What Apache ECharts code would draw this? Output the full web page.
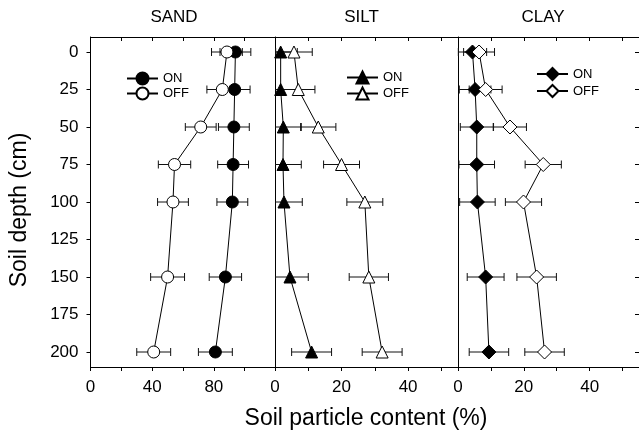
<!DOCTYPE html>
<html>
<head>
<meta charset="utf-8">
<script src="https://cdn.jsdelivr.net/npm/echarts@6/dist/echarts.min.js"></script>
<style>html,body{margin:0;padding:0;background:#fff}#c{width:639px;height:435px}</style>
</head>
<body>
<div id="c"></div>
<script>
var depth = [0, 25, 50, 75, 100, 150, 200];
var sandOn = [94, 93.5, 93, 92.5, 92, 87.5, 81];
var sandOff = [88.5, 85.5, 71.5, 54.5, 53.5, 50, 41];
var sandOnErr = [10, 10, 10, 10, 10, 10.5, 11];
var sandOffErr = [10, 10, 10, 10.5, 10, 11, 11];
var siltOn = [1.7, 1.7, 2.5, 2.4, 2.7, 4.5, 11];
var siltOff = [5.7, 7, 13, 20, 27, 28.2, 32.2];
var siltOnErr = [5, 5, 5.4, 5.5, 5.5, 5.5, 6];
var siltOffErr = [5.5, 5, 5.3, 5.4, 5.4, 5.9, 6];
var clayOn = [4.4, 5.2, 5.7, 5.7, 5.9, 8.4, 9.4];
var clayOff = [6.4, 8.4, 15.8, 25.9, 19.9, 23.9, 26.3];
var clayOnErr = [4.3, 4.8, 5, 5.4, 5.4, 5.6, 6];
var clayOffErr = [4.7, 5, 5, 5.5, 5.5, 6, 6];
var panelNames = ['SAND', 'SILT', 'CLAY'];
var depthTicks = [0, 25, 50, 75, 100, 125, 150, 175, 200];
var sandTicks = [0, 20, 40, 60, 80, 100, 120];
var sandLabels = [0, 40, 80];
var fineTicks = [0, 10, 20, 30, 40, 50];
var fineLabels = [0, 20, 40];

var FONT = 'Liberation Sans, Arial, sans-serif';
var chart = echarts.init(document.getElementById('c'), null, {renderer: 'canvas'});

var grids = [
  {left: 90.5, top: 37, width: 185, height: 330},
  {left: 275, top: 37, width: 183, height: 330},
  {left: 458, top: 37, width: 183, height: 330}
];

function pairs(xs) { return xs.map(function (v, i) { return [v, depth[i]]; }); }
function triples(xs, es) { return xs.map(function (v, i) { return [v, depth[i], es[i]]; }); }

function errRender(params, api) {
  var x = api.value(0), y = api.value(1), e = api.value(2);
  var cs = params.coordSys;
  var p1 = api.coord([x - e, y]);
  var p2 = api.coord([x + e, y]);
  var h = 4;
  var st = {stroke: '#111', lineWidth: 1};
  var left = Math.max(p1[0], cs.x), right = Math.min(p2[0], cs.x + cs.width);
  var ch = [{type: 'line', shape: {x1: left, y1: p1[1], x2: right, y2: p2[1]}, style: st}];
  if (p1[0] >= cs.x - 0.5) ch.push({type: 'line', shape: {x1: p1[0], y1: p1[1] - h, x2: p1[0], y2: p1[1] + h}, style: st});
  if (p2[0] <= cs.x + cs.width) ch.push({type: 'line', shape: {x1: p2[0], y1: p2[1] - h, x2: p2[0], y2: p2[1] + h}, style: st});
  return {type: 'group', children: ch};
}

var axisLineStyle = {color: '#000', width: 1};
var xAxes = [], yAxes = [];
grids.forEach(function (g, p) {
  var isSand = p === 0;
  var mx = isSand ? 120 : 55;
  var ticks = isSand ? sandTicks : fineTicks;
  var labels = isSand ? sandLabels : fineLabels;
  xAxes.push({
    type: 'value', gridIndex: p, position: 'bottom', min: 0, max: mx,
    axisLine: {onZero: false, lineStyle: axisLineStyle},
    axisTick: {inside: false, length: 4, lineStyle: axisLineStyle, customValues: ticks},
    axisLabel: {customValues: labels, fontSize: 17, color: '#000', fontFamily: FONT, margin: 12},
    splitLine: {show: false}
  });
  xAxes.push({
    type: 'value', gridIndex: p, position: 'top', min: 0, max: mx,
    axisLine: {onZero: false, lineStyle: axisLineStyle},
    axisTick: {inside: true, length: 4, lineStyle: axisLineStyle, customValues: ticks},
    axisLabel: {show: false},
    splitLine: {show: false}
  });
});
yAxes.push({
  type: 'value', gridIndex: 0, position: 'left', inverse: true, min: -10, max: 210,
  axisLine: {onZero: false, lineStyle: axisLineStyle},
  axisTick: {inside: false, length: 4, lineStyle: axisLineStyle, customValues: depthTicks},
  axisLabel: {customValues: depthTicks, fontSize: 17, color: '#000', fontFamily: FONT, margin: 12},
  splitLine: {show: false}
});
[1, 2].forEach(function (p) {
  yAxes.push({
    type: 'value', gridIndex: p, position: 'left', inverse: true, min: -10, max: 210,
    axisLine: {onZero: false, lineStyle: axisLineStyle},
    axisTick: {show: false}, axisLabel: {show: false}, splitLine: {show: false}
  });
});
yAxes.push({
  type: 'value', gridIndex: 2, position: 'right', inverse: true, min: -10, max: 210,
  axisLine: {onZero: false, lineStyle: axisLineStyle},
  axisTick: {inside: true, length: 4, lineStyle: axisLineStyle, customValues: depthTicks},
  axisLabel: {show: false}, splitLine: {show: false}
});

var panels = [
  {on: sandOn, off: sandOff, onErr: sandOnErr, offErr: sandOffErr, sym: 'circle', size: 12},
  {on: siltOn, off: siltOff, onErr: siltOnErr, offErr: siltOffErr, sym: 'triangle', size: 12},
  {on: clayOn, off: clayOff, onErr: clayOnErr, offErr: clayOffErr, sym: 'diamond', size: 14}
];

var series = [];
panels.forEach(function (pn, p) {
  var xi = p * 2, yi = p;
  var nm = panelNames[p];
  [['OFF', pn.off, pn.offErr], ['ON', pn.on, pn.onErr]].forEach(function (s) {
    series.push({
      type: 'custom', name: nm + ' ' + s[0] + ' err', xAxisIndex: xi, yAxisIndex: yi, z: 1,
      renderItem: errRender, data: triples(s[1], s[2]), encode: {x: 0, y: 1}, silent: true
    });
  });
  [['OFF', pn.off], ['ON', pn.on]].forEach(function (s) {
    var filled = s[0] === 'ON';
    series.push({
      type: 'line', name: nm + ' ' + s[0], xAxisIndex: xi, yAxisIndex: yi, z: filled ? 3 : 4,
      data: pairs(s[1]), symbol: pn.sym, symbolSize: pn.size, showSymbol: true,
      lineStyle: {color: '#000', width: 1},
      itemStyle: {color: filled ? '#000' : '#fff', borderColor: '#000', borderWidth: 1, opacity: 1},
      emphasis: {disabled: true}
    });
  });
});

function legendFor(p, left, top, gap) {
  return {
    data: [panelNames[p] + ' ON', panelNames[p] + ' OFF'], orient: 'vertical', left: left, top: top,
    itemWidth: 31, itemHeight: 15, itemGap: gap, selectedMode: false,
    formatter: function (n) { return n.split(' ')[1]; },
    textStyle: {fontSize: 13, color: '#000', fontFamily: FONT}
  };
}

var option = {
  animation: false,
  backgroundColor: '#fff',
  grid: grids,
  xAxis: xAxes,
  yAxis: yAxes,
  series: series,
  legend: [legendFor(0, 121, 66.5, 1), legendFor(1, 341, 65.5, 2), legendFor(2, 531, 62, 3)],
  graphic: [
    {type: 'text', x: 174, y: 17, style: {text: 'SAND', textAlign: 'center', textVerticalAlign: 'middle', fontSize: 17, fontFamily: FONT, fill: '#000'}},
    {type: 'text', x: 361.5, y: 17, style: {text: 'SILT', textAlign: 'center', textVerticalAlign: 'middle', fontSize: 17, fontFamily: FONT, fill: '#000'}},
    {type: 'text', x: 543, y: 17, style: {text: 'CLAY', textAlign: 'center', textVerticalAlign: 'middle', fontSize: 17, fontFamily: FONT, fill: '#000'}},
    {type: 'text', x: 366, y: 419, style: {text: 'Soil particle content (%)', textAlign: 'center', textVerticalAlign: 'middle', fontSize: 23, fontFamily: FONT, fill: '#000'}},
    {type: 'text', x: 20, y: 210, rotation: Math.PI / 2, style: {text: 'Soil depth (cm)', textAlign: 'center', textVerticalAlign: 'middle', fontSize: 23, fontFamily: FONT, fill: '#000'}}
  ]
};
chart.setOption(option);
</script>
</body>
</html>
